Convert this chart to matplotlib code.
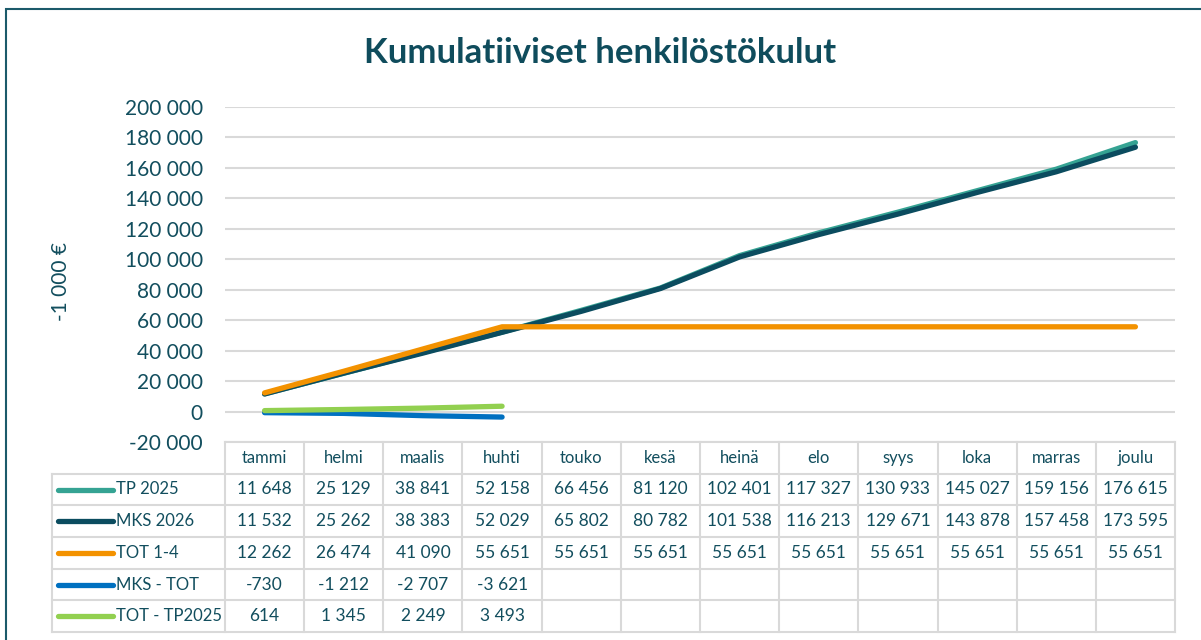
#!/usr/bin/env python3
import matplotlib
matplotlib.use("Agg")
import matplotlib.pyplot as plt
from matplotlib.patches import Rectangle
from matplotlib.ticker import FuncFormatter

months = ["tammi", "helmi", "maalis", "huhti", "touko", "kesä",
          "heinä", "elo", "syys", "loka", "marras", "joulu"]
tp_2025 = [11648, 25129, 38841, 52158, 66456, 81120, 102401, 117327, 130933, 145027, 159156, 176615]
mks_2026 = [11532, 25262, 38383, 52029, 65802, 80782, 101538, 116213, 129671, 143878, 157458, 173595]
tot_1_4 = [12262, 26474, 41090, 55651, 55651, 55651, 55651, 55651, 55651, 55651, 55651, 55651]
mks_tot = [-730, -1212, -2707, -3621]
tot_tp2025 = [614, 1345, 2249, 3493]

series_names = ["TP 2025", "MKS 2026", "TOT 1-4", "MKS - TOT", "TOT - TP2025"]
series_values = [tp_2025, mks_2026, tot_1_4, mks_tot, tot_tp2025]
series_colors = ["#35a393", "#0b4c5f", "#f39200", "#0070c0", "#92d050"]

y_ticks = list(range(-20000, 200001, 20000))

TEXT = "#124e5e"
GRID = "#d9d9d9"
FONT = "Lato"


def fmt(v):
    return f"{v:,}".replace(",", " ")


W, H = 1201, 640
fig = plt.figure(figsize=(W / 100, H / 100), dpi=100)
fig.patch.set_facecolor("white")

# outer chart border
fig.patches.append(Rectangle((6 / W, -0.1), 1.2, 1 - 9 / H + 0.1, transform=fig.transFigure,
                             fill=False, edgecolor="#1b5a6a", linewidth=1.5))

left, right = 225 / W, 1175 / W
top_px, axis_px, table_px = 107, 442, 632
ax = fig.add_axes([left, 1 - axis_px / H, right - left, (axis_px - top_px) / H])
x = list(range(len(months)))

for name, vals, color in zip(series_names, series_values, series_colors):
    ax.plot(x[:len(vals)], vals, color=color, linewidth=3.8, solid_capstyle="round",
            solid_joinstyle="round", label=name, zorder=3)

ax.set_xlim(-0.5, len(months) - 0.5)
ax.set_ylim(-20000, 200000)
ax.set_yticks(y_ticks)
ax.yaxis.set_major_formatter(FuncFormatter(lambda v, _: fmt(int(v))))
ax.set_xticks([])
ax.tick_params(axis="y", length=0, pad=16, labelsize=15, labelcolor=TEXT)
for lab in ax.get_yticklabels():
    lab.set_fontfamily(FONT)
ax.grid(axis="y", color=GRID, linewidth=1.5)
ax.set_axisbelow(True)
for s in ax.spines.values():
    s.set_visible(False)
ax.set_ylabel("-1 000 €", fontsize=15, color=TEXT, family=FONT)
ax.yaxis.set_label_coords(-0.162, 0.48)

fig.text(0.5, 1 - 53 / H, "Kumulatiiviset henkilöstökulut", ha="center", va="center",
         fontsize=25, fontweight="bold", color="#0f4c5c", family=FONT)

# data table below the plot
tax = fig.add_axes([left, 1 - table_px / H, right - left, (table_px - axis_px) / H])
tax.set_xlim(-0.5, len(months) - 0.5)
tax.set_ylim(6, 0)
tax.axis("off")
col_w = (right - left) * W / len(months)
label_left = -0.5 - (225 - 52) / col_w

tax.plot([-0.5, len(months) - 0.5], [0, 0], color=GRID, lw=1.5, clip_on=False)
for r in range(1, 7):
    tax.plot([label_left, len(months) - 0.5], [r, r], color=GRID, lw=1.5, clip_on=False)
tax.plot([label_left, label_left], [1, 6], color=GRID, lw=1.5, clip_on=False)
for c in range(len(months) + 1):
    tax.plot([c - 0.5, c - 0.5], [0, 6], color=GRID, lw=1.5, clip_on=False)

for i, m in enumerate(months):
    tax.text(i, 0.5, m, ha="center", va="center", fontsize=12, color=TEXT, family=FONT)

key_x0 = label_left + 6 / col_w
key_x1 = label_left + 61 / col_w
for r, (name, vals, color) in enumerate(zip(series_names, series_values, series_colors), start=1):
    tax.plot([key_x0, key_x1], [r + 0.5, r + 0.5], color=color, lw=3.8,
             solid_capstyle="round", clip_on=False)
    tax.text(key_x1 + 3 / col_w, r + 0.5, name, ha="left", va="center", fontsize=12,
             color=TEXT, family=FONT, clip_on=False)
    for i, v in enumerate(vals):
        tax.text(i, r + 0.5, fmt(v), ha="center", va="center", fontsize=12.5,
                 color=TEXT, family=FONT)

fig.savefig("out.png", dpi=100, facecolor="white")
